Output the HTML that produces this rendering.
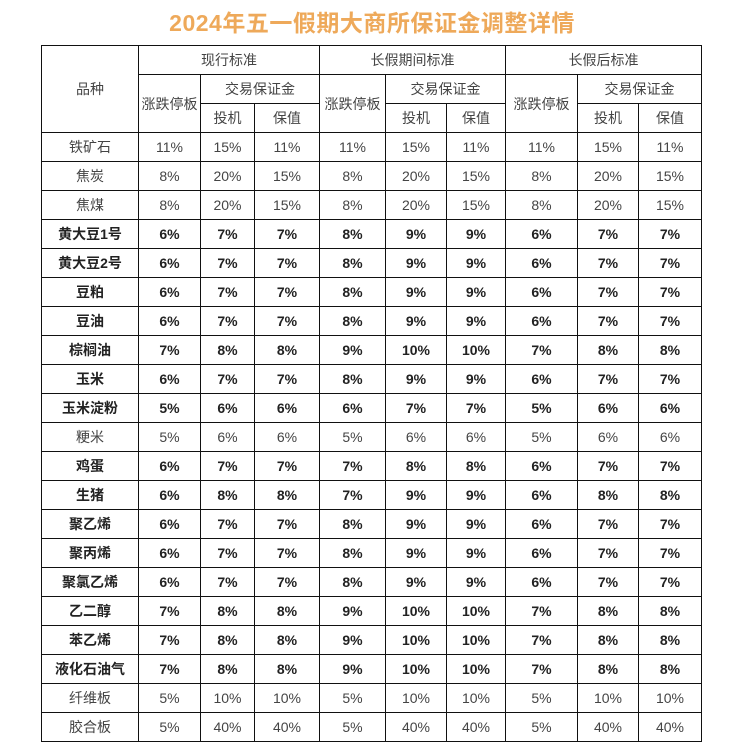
<!DOCTYPE html>
<html><head><meta charset="utf-8"><style>
body{margin:0;background:#fff;width:744px;height:744px;overflow:hidden;font-family:"Liberation Sans","Noto Sans CJK SC",sans-serif;}
.t{position:absolute;left:0;top:4px;width:744px;text-align:center;font-size:23px;font-weight:bold;color:#eea95a;letter-spacing:0.5px;}
table{position:absolute;left:41px;top:45px;border-collapse:collapse;table-layout:fixed;}
td{border:1px solid #111;text-align:center;font-size:14px;color:#444;padding:0;height:28px;}
tr.b td{font-weight:bold;color:#222;}
</style></head><body>
<div class="t">2024年五一假期大商所保证金调整详情</div>
<table>
<colgroup><col style="width:97px"><col style="width:62px"><col style="width:54px"><col style="width:65px"><col style="width:66px"><col style="width:61px"><col style="width:59px"><col style="width:72px"><col style="width:61px"><col style="width:63px"></colgroup>
<tr><td rowspan="3">品种</td><td colspan="3">现行标准</td><td colspan="3">长假期间标准</td><td colspan="3">长假后标准</td></tr>
<tr><td rowspan="2">涨跌停板</td><td colspan="2">交易保证金</td><td rowspan="2">涨跌停板</td><td colspan="2">交易保证金</td><td rowspan="2">涨跌停板</td><td colspan="2">交易保证金</td></tr>
<tr><td>投机</td><td>保值</td><td>投机</td><td>保值</td><td>投机</td><td>保值</td></tr>
<tr><td>铁矿石</td><td>11%</td><td>15%</td><td>11%</td><td>11%</td><td>15%</td><td>11%</td><td>11%</td><td>15%</td><td>11%</td></tr>
<tr><td>焦炭</td><td>8%</td><td>20%</td><td>15%</td><td>8%</td><td>20%</td><td>15%</td><td>8%</td><td>20%</td><td>15%</td></tr>
<tr><td>焦煤</td><td>8%</td><td>20%</td><td>15%</td><td>8%</td><td>20%</td><td>15%</td><td>8%</td><td>20%</td><td>15%</td></tr>
<tr class="b"><td>黄大豆1号</td><td>6%</td><td>7%</td><td>7%</td><td>8%</td><td>9%</td><td>9%</td><td>6%</td><td>7%</td><td>7%</td></tr>
<tr class="b"><td>黄大豆2号</td><td>6%</td><td>7%</td><td>7%</td><td>8%</td><td>9%</td><td>9%</td><td>6%</td><td>7%</td><td>7%</td></tr>
<tr class="b"><td>豆粕</td><td>6%</td><td>7%</td><td>7%</td><td>8%</td><td>9%</td><td>9%</td><td>6%</td><td>7%</td><td>7%</td></tr>
<tr class="b"><td>豆油</td><td>6%</td><td>7%</td><td>7%</td><td>8%</td><td>9%</td><td>9%</td><td>6%</td><td>7%</td><td>7%</td></tr>
<tr class="b"><td>棕榈油</td><td>7%</td><td>8%</td><td>8%</td><td>9%</td><td>10%</td><td>10%</td><td>7%</td><td>8%</td><td>8%</td></tr>
<tr class="b"><td>玉米</td><td>6%</td><td>7%</td><td>7%</td><td>8%</td><td>9%</td><td>9%</td><td>6%</td><td>7%</td><td>7%</td></tr>
<tr class="b"><td>玉米淀粉</td><td>5%</td><td>6%</td><td>6%</td><td>6%</td><td>7%</td><td>7%</td><td>5%</td><td>6%</td><td>6%</td></tr>
<tr><td>粳米</td><td>5%</td><td>6%</td><td>6%</td><td>5%</td><td>6%</td><td>6%</td><td>5%</td><td>6%</td><td>6%</td></tr>
<tr class="b"><td>鸡蛋</td><td>6%</td><td>7%</td><td>7%</td><td>7%</td><td>8%</td><td>8%</td><td>6%</td><td>7%</td><td>7%</td></tr>
<tr class="b"><td>生猪</td><td>6%</td><td>8%</td><td>8%</td><td>7%</td><td>9%</td><td>9%</td><td>6%</td><td>8%</td><td>8%</td></tr>
<tr class="b"><td>聚乙烯</td><td>6%</td><td>7%</td><td>7%</td><td>8%</td><td>9%</td><td>9%</td><td>6%</td><td>7%</td><td>7%</td></tr>
<tr class="b"><td>聚丙烯</td><td>6%</td><td>7%</td><td>7%</td><td>8%</td><td>9%</td><td>9%</td><td>6%</td><td>7%</td><td>7%</td></tr>
<tr class="b"><td>聚氯乙烯</td><td>6%</td><td>7%</td><td>7%</td><td>8%</td><td>9%</td><td>9%</td><td>6%</td><td>7%</td><td>7%</td></tr>
<tr class="b"><td>乙二醇</td><td>7%</td><td>8%</td><td>8%</td><td>9%</td><td>10%</td><td>10%</td><td>7%</td><td>8%</td><td>8%</td></tr>
<tr class="b"><td>苯乙烯</td><td>7%</td><td>8%</td><td>8%</td><td>9%</td><td>10%</td><td>10%</td><td>7%</td><td>8%</td><td>8%</td></tr>
<tr class="b"><td>液化石油气</td><td>7%</td><td>8%</td><td>8%</td><td>9%</td><td>10%</td><td>10%</td><td>7%</td><td>8%</td><td>8%</td></tr>
<tr><td>纤维板</td><td>5%</td><td>10%</td><td>10%</td><td>5%</td><td>10%</td><td>10%</td><td>5%</td><td>10%</td><td>10%</td></tr>
<tr><td>胶合板</td><td>5%</td><td>40%</td><td>40%</td><td>5%</td><td>40%</td><td>40%</td><td>5%</td><td>40%</td><td>40%</td></tr>
</table>
</body></html>
